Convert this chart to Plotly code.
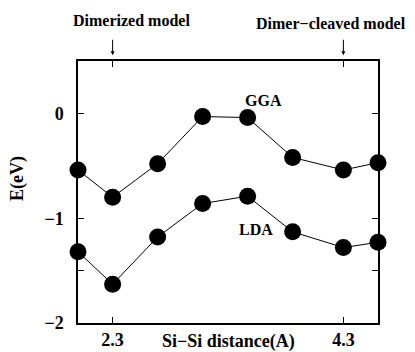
import plotly.graph_objects as go

# Si-Si dimer distance (Angstrom) and relative total energy (eV)
distance = [2.0, 2.3, 2.69, 3.08, 3.47, 3.86, 4.3, 4.6]
energy_gga = [-0.54, -0.80, -0.48, -0.03, -0.04, -0.42, -0.54, -0.47]
energy_lda = [-1.32, -1.63, -1.18, -0.86, -0.79, -1.13, -1.28, -1.23]

x_ticks = [2.3, 4.3]
x_tick_labels = ["2.3", "4.3"]
y_ticks = [0, -1, -2]
y_tick_labels = ["0", "\u22121", "\u22122"]
y_minor_ticks = [0.5, -0.5, -1.5]

FONT = "Liberation Serif"


def font(size):
    return dict(family=FONT, size=size, color="black")


def b(text):
    return "<b>" + text + "</b>"


fig = go.Figure()

for yvals in (energy_gga, energy_lda):
    fig.add_trace(go.Scatter(
        x=distance, y=yvals, mode="lines+markers",
        line=dict(color="black", width=1),
        marker=dict(color="black", size=17),
        cliponaxis=False, showlegend=False,
    ))

fig.update_xaxes(
    range=[2.0, 4.6], tickvals=x_ticks, ticktext=[b(t) for t in x_tick_labels],
    ticks="inside", ticklen=6, tickwidth=1, tickcolor="black",
    showline=True, linecolor="black", linewidth=1.5, mirror="allticks",
    showgrid=False, zeroline=False, automargin=False,
    tickfont=font(18),
)
fig.update_yaxes(
    range=[-2.0, 0.5], tickvals=y_ticks, ticktext=[b(t) for t in y_tick_labels],
    ticks="inside", ticklen=6, tickwidth=1, tickcolor="black",
    ticklabelstandoff=9,
    minor=dict(tickvals=y_minor_ticks, ticks="inside", ticklen=6,
               tickcolor="black", showgrid=False),
    showline=True, linecolor="black", linewidth=1.5, mirror="allticks",
    showgrid=False, zeroline=False, automargin=False,
    tickfont=font(18),
)

# Axis titles
fig.add_annotation(x=3.3, y=-0.07, xref="x", yref="paper",
                   xanchor="center", yanchor="middle",
                   text=b("Si\u2212Si distance(A)"), showarrow=False, font=font(18))
fig.add_annotation(x=-0.2, y=0.55, xref="paper", yref="paper",
                   xanchor="center", yanchor="middle",
                   text=b("E(eV)"), textangle=-90, showarrow=False, font=font(18))

# Curve labels
fig.add_annotation(x=3.61, y=0.12, xref="x", yref="y", text=b("GGA"),
                   xanchor="center", yanchor="middle",
                   showarrow=False, font=font(16))
fig.add_annotation(x=3.54, y=-1.11, xref="x", yref="y", text=b("LDA"),
                   xanchor="center", yanchor="middle",
                   showarrow=False, font=font(16))

# Model markers above the frame
for xpos, xtext, ytext, name in [(2.3, 2.46, 1.156, "Dimerized model"),
                                 (4.3, 4.19, 1.145, "Dimer\u2212cleaved model")]:
    fig.add_annotation(x=xtext, y=ytext, xref="x", yref="paper", text=b(name),
                       xanchor="center", yanchor="middle",
                       showarrow=False, font=font(16))
    fig.add_annotation(x=xpos, y=1.022, xref="x", yref="paper", text="",
                       showarrow=True, ax=0, ay=-17, arrowhead=2,
                       arrowsize=0.8, arrowwidth=1, arrowcolor="black")

fig.update_layout(
    width=415, height=352,
    margin=dict(l=78, r=37, t=61, b=29, autoexpand=False),
    plot_bgcolor="white", paper_bgcolor="white",
    font=dict(family=FONT, color="black"),
)

fig.write_html("out.html")
